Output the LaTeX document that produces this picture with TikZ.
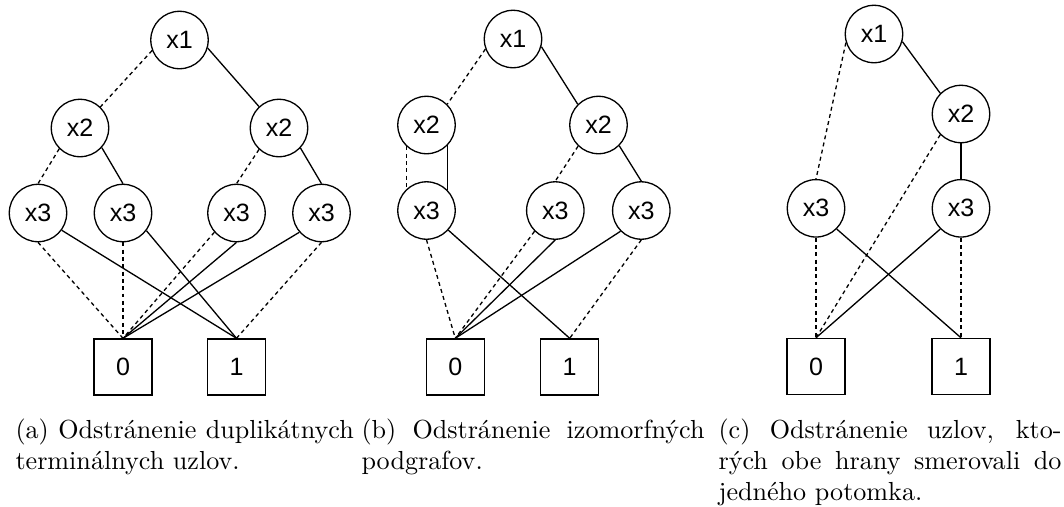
\documentclass[tikz,border=0pt]{standalone}
\usepackage{fontspec}
\newfontfamily\nodefont{Liberation Sans}
\usetikzlibrary{positioning}

\begin{document}
\begin{tikzpicture}[x=0.3831pt,y=-0.3831pt,
  vrchol/.style={circle,draw,line width=0.5pt,minimum size=22pt,inner sep=0pt,font=\nodefont\fontsize{9.6}{10}\selectfont},
  list/.style={rectangle,draw,line width=0.5pt,minimum width=22.2pt,minimum height=21.5pt,inner sep=0pt,font=\nodefont\fontsize{9.6}{10}\selectfont},
  nula/.style={line width=0.5pt,dash pattern=on 1.5pt off 1.3pt},
  jedna/.style={line width=0.5pt},
  popis/.style={anchor=base west,inner sep=0pt,align=justify,execute at begin node={\hyphenpenalty=10000\relax}}]
\useasboundingbox (0,0) rectangle (1064,506);
% (a)
\node[vrchol] at (179.5,40) (aX1) {x1};
\node[vrchol] at (80,128) (aX2L) {x2};
\node[vrchol] at (279,128) (aX2R) {x2};
\node[vrchol] at (38,213) (aX3A) {x3};
\node[vrchol] at (123,213) (aX3B) {x3};
\node[vrchol] at (236.5,213) (aX3C) {x3};
\node[vrchol] at (321.5,213) (aX3D) {x3};
\node[list] at (123,367) (aT0) {0};
\node[list] at (236.5,367) (aT1) {1};
\draw[nula] (aX1.201) to (aX2L.46);
\draw[jedna] (aX1.344) to (aX2R.133);
\draw[nula] (aX2L.225) to (aX3A.90);
\draw[jedna] (aX2L.318) to (aX3B.90);
\draw[nula] (aX2R.227) to (aX3C.90);
\draw[jedna] (aX2R.317) to (aX3D.90);
\draw[nula] (aX3A.270) to (aT0.north);
\draw[jedna] (aX3A.324) to (aT1.north);
\draw[nula] (aX3B.270) to (aT0.north);
\draw[jedna] (aX3B.323) to (aT1.north);
\draw[nula] (aX3C.221) to (aT0.north);
\draw[jedna] (aX3C.270) to (aT0.north);
\draw[jedna] (aX3D.221) to (aT0.north);
\draw[nula] (aX3D.270) to (aT1.north);
\node[popis,text width=129.6pt] at (15,438) (aCap) {(a) Odstránenie duplikátnych\linebreak terminálnych uzlov.};
% (b)
\node[vrchol] at (513,39) (bX1) {x1};
\node[vrchol] at (426.5,125) (bX2L) {x2};
\node[vrchol] at (598.5,125) (bX2R) {x2};
\node[vrchol] at (426.5,210.5) (bX3L) {x3};
\node[vrchol] at (555.3,210.5) (bX3M) {x3};
\node[vrchol] at (641.3,210.5) (bX3R) {x3};
\node[list] at (455.3,367) (bT0) {0};
\node[list] at (569.7,367) (bT1) {1};
\draw[nula] (bX1.200) to (bX2L.45);
\draw[jedna] (bX1.345) to (bX2R.135);
\draw[nula] (bX2L.227) to (bX3L.133);
\draw[jedna] (bX2L.316) to (bX3L.44);
\draw[nula] (bX2R.226) to (bX3M.90);
\draw[jedna] (bX2R.315) to (bX3R.90);
\draw[nula] (bX3L.270) to (bT0.north);
\draw[jedna] (bX3L.318) to (bT1.north);
\draw[nula] (bX3M.225) to (bT0.north);
\draw[jedna] (bX3M.270) to (bT0.north);
\draw[jedna] (bX3R.225) to (bT0.north);
\draw[nula] (bX3R.270) to (bT1.north);
\node[popis,text width=131.4pt] at (361,438) (bCap) {(b) Odstránenie izomorfných\linebreak podgrafov.};
% (c)
\node[vrchol] at (874,34) (cX1) {x1};
\node[vrchol] at (961,114) (cX2) {x2};
\node[vrchol] at (816,208.3) (cX3L) {x3};
\node[vrchol] at (961,208.3) (cX3R) {x3};
\node[list] at (816,366.5) (cT0) {0};
\node[list] at (961,366.5) (cT1) {1};
\draw[nula] (cX1.197) to (cX3L.90);
\draw[jedna] (cX1.345) to (cX2.135);
\draw[jedna] (cX2.270) to (cX3R.90);
\draw[nula] (cX2.225) to (cT0.north);
\draw[nula] (cX3L.270) to (cT0.north);
\draw[jedna] (cX3L.315) to (cT1.north);
\draw[jedna] (cX3R.225) to (cT0.north);
\draw[nula] (cX3R.270) to (cT1.north);
\node[popis,text width=131.4pt] at (718,438) (cCap) {(c) Odstránenie uzlov, kto-\linebreak rých obe hrany smerovali do\linebreak jedného potomka.};
\end{tikzpicture}
\end{document}
